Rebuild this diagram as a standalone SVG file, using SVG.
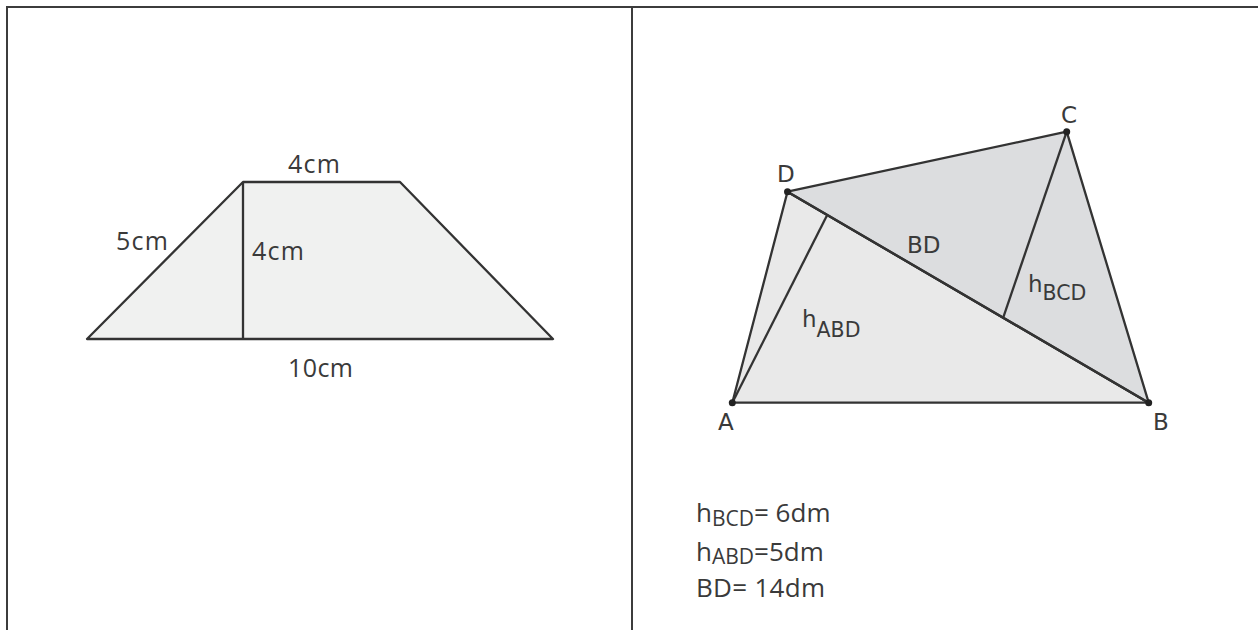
<svg xmlns="http://www.w3.org/2000/svg" width="1258" height="630" viewBox="0 0 1258 630">
<style>
.frame{stroke:#3c3c3c;stroke-width:2;fill:none}
.edge{stroke:#333;stroke-width:2.3;stroke-linejoin:round}
.line{stroke:#333;stroke-width:2.3;fill:none}
.f1{fill:#f0f1f0}
.f2{fill:#e9e9e9}
.f3{fill:#dcdddf}
.lbl{font-family:"Open Sans","Liberation Sans",sans-serif;font-size:25px;fill:#3a3a3a}
.big{font-size:26px}
.geo{font-family:"DejaVu Sans","Liberation Sans",sans-serif;font-size:23px;fill:#3a3a3a}
.sub{font-size:20.5px}
.lsub{font-size:21px}
.pt{fill:#222}
</style>
<rect width="1258" height="630" fill="#fff"/>
<g id="frame">
<path class="frame" d="M7,630 V7 H1258 M632,7 V630"/>
</g>
<g id="trapezoid">
<polygon points="87,339 243,182 400,182 553,339" class="edge f1"/>
<line x1="243" y1="182" x2="243" y2="339" class="line"/>
<text class="lbl" x="288" y="173" textLength="52">4cm</text>
<text class="lbl" x="116" y="250" textLength="52">5cm</text>
<text class="lbl" x="252" y="260" textLength="52">4cm</text>
<text class="lbl" x="288" y="377" textLength="65">10cm</text>
</g>
<g id="triangle-ABD">
<polygon points="732.3,402.7 1148.7,402.7 787.5,191.7" class="edge f2"/>
</g>
<g id="triangle-BCD">
<polygon points="787.5,191.7 1066.7,131.7 1148.7,402.7" class="edge f3"/>
</g>
<g id="connectors">
<line x1="787.5" y1="191.7" x2="1148.7" y2="402.7" class="line"/>
<line x1="732.3" y1="402.7" x2="826.7" y2="216" class="line"/>
<line x1="1066.7" y1="131.7" x2="1003.3" y2="317.3" class="line"/>
</g>
<g id="points">
<circle class="pt" cx="732.3" cy="402.7" r="3.5"/>
<circle class="pt" cx="1148.7" cy="402.7" r="3.5"/>
<circle class="pt" cx="1066.7" cy="131.7" r="3.5"/>
<circle class="pt" cx="787.5" cy="191.7" r="3.5"/>
</g>
<g id="point-labels">
<text class="geo" x="718" y="430">A</text>
<text class="geo" x="1153" y="430">B</text>
<text class="geo" x="1061" y="123">C</text>
<text class="geo" x="777" y="182">D</text>
<text class="geo" x="907" y="253">BD</text>
<text class="geo" x="802" y="327">h<tspan class="sub" dy="10">ABD</tspan></text>
<text class="geo" x="1028" y="292">h<tspan class="sub" dy="8">BCD</tspan></text>
</g>
<g id="given">
<text class="lbl big" x="696" y="522">h<tspan class="lsub" dy="4">BCD</tspan><tspan dy="-4">= 6dm</tspan></text>
<text class="lbl big" x="696" y="561">h<tspan class="lsub" dy="3">ABD</tspan><tspan dy="-3">=5dm</tspan></text>
<text class="lbl big" x="696" y="597" textLength="129">BD= 14dm</text>
</g>
</svg>
